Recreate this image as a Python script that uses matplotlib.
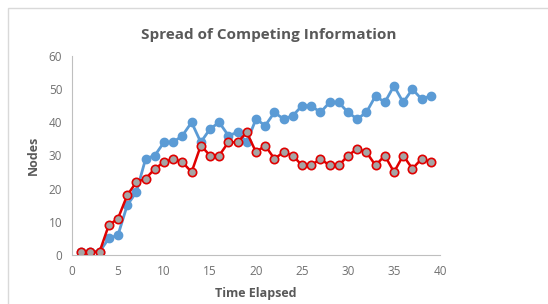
import matplotlib.pyplot as plt
from matplotlib.patches import Rectangle

time = list(range(1, 40))
blue_nodes = [1, 1, 1, 5, 6, 15, 19, 29, 30, 34, 34, 36, 40, 34, 38, 40, 36, 37, 34, 41,
              39, 43, 41, 42, 45, 45, 43, 46, 46, 43, 41, 43, 48, 46, 51, 46, 50, 47, 48]
red_nodes = [1, 1, 1, 9, 11, 18, 22, 23, 26, 28, 29, 28, 25, 33, 30, 30, 34, 34, 37, 31,
             33, 29, 31, 30, 27, 27, 29, 27, 27, 30, 32, 31, 27, 30, 25, 30, 26, 29, 28]
x_ticks = [0, 5, 10, 15, 20, 25, 30, 35, 40]
y_ticks = [0, 10, 20, 30, 40, 50, 60]

plt.rcParams["font.family"] = ["Open Sans", "DejaVu Sans"]
text_color = "#595959"

fig = plt.figure(figsize=(5.48, 3.04), dpi=100)
ax = fig.add_axes([72 / 548, 1 - 255 / 304, 368 / 548, 199 / 304])

# chart frame
fig.patches.append(Rectangle((8 / 548, -0.1), 1.2, 1 - 8 / 304 + 0.1, transform=fig.transFigure,
                             fill=False, edgecolor="#D9D9D9", linewidth=1.0))

ax.plot(time, blue_nodes, color="#5B9BD5", linewidth=2, marker="o", markersize=6,
        markerfacecolor="#5B9BD5", markeredgecolor="#5B9BD5")
ax.plot(time, red_nodes, color="#E00000", linewidth=1.8, marker="o", markersize=6,
        markerfacecolor="#A5A5A5", markeredgecolor="#E00000", markeredgewidth=1.2)

ax.set_xlim(0, 40)
ax.set_ylim(0, 60)
ax.set_xticks(x_ticks)
ax.set_yticks(y_ticks)
ax.tick_params(length=0, labelsize=8.5, labelcolor="#707070", pad=7)
for side in ["top", "right"]:
    ax.spines[side].set_visible(False)
for side in ["left", "bottom"]:
    ax.spines[side].set_color("#BFBFBF")

ax.set_xlabel("Time Elapsed", fontsize=9, fontweight="bold", color=text_color, labelpad=7)
ax.set_ylabel("Nodes", fontsize=9, fontweight="bold", color=text_color, labelpad=6)
fig.text(269 / 548, 1 - 35 / 304, "Spread of Competing Information", ha="center", va="center",
         fontsize=11, fontweight="bold", color=text_color)

plt.savefig("out.png", dpi=100)
